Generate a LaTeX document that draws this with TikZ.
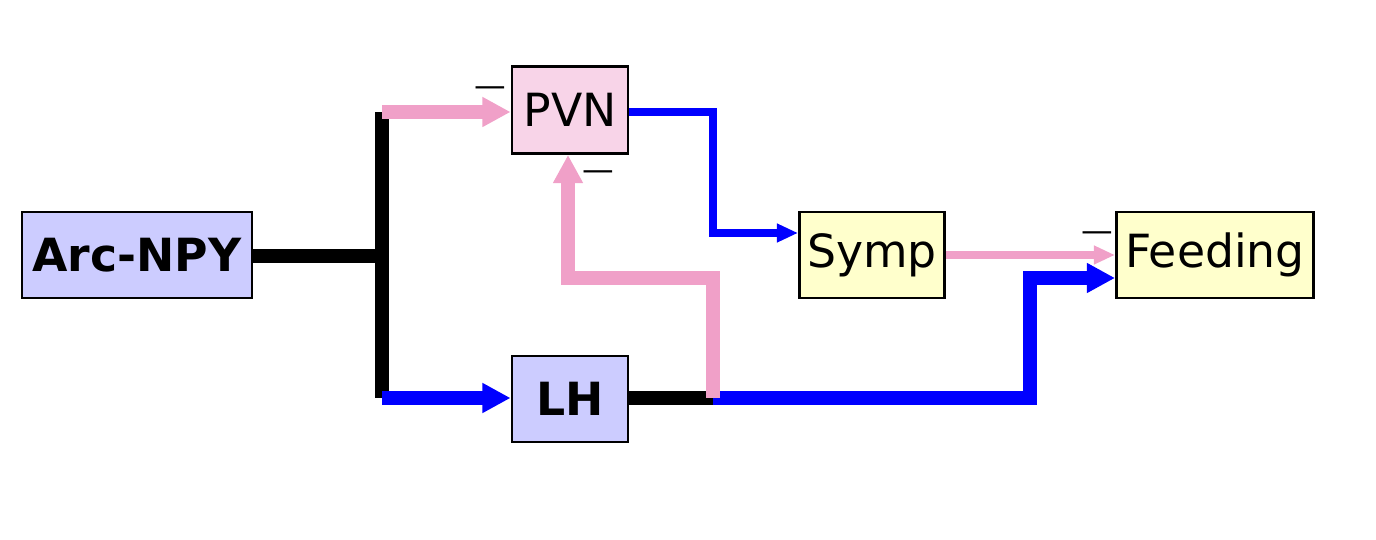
\documentclass[tikz,border=0pt]{standalone}
\usepackage{fontspec}
\setmainfont{DejaVu Sans}
\usetikzlibrary{arrows.meta}
\definecolor{lav}{RGB}{204,204,255}
\definecolor{pinkbox}{RGB}{248,212,232}
\definecolor{yel}{RGB}{255,255,204}
\definecolor{pinkline}{RGB}{240,160,200}
\tikzset{
    box/.style={draw, black, line width=0.8pt, inner sep=0pt, font=\fontsize{13}{15}\selectfont},
    minus/.style={font=\fontsize{9}{10}\selectfont, inner sep=0pt},
    tip/.style={-{Triangle[length=8pt, width=8pt]}}
}
\begin{document}
\begin{tikzpicture}[x=0.01cm, y=-0.01cm]
        \useasboundingbox (0,0) rectangle (1376,540);

        \node[box, fill=lav, minimum width=2.3cm, minimum height=0.86cm, font=\fontsize{13}{15}\selectfont\bfseries] (arc) at (137,255) {Arc-NPY};
        \node[box, fill=pinkbox, minimum width=1.16cm, minimum height=0.87cm] (pvn) at (570,110) {PVN};
        \node[box, fill=lav, minimum width=1.16cm, minimum height=0.86cm, font=\fontsize{13}{15}\selectfont\bfseries] (lh) at (570,399) {LH};
        \node[box, fill=yel, minimum width=1.45cm, minimum height=0.86cm] (symp) at (872,255) {Symp};
        \node[box, fill=yel, minimum width=1.97cm, minimum height=0.86cm] (feed) at (1215,255) {Feeding};

        \coordinate (split) at (382,256);
        \coordinate (top) at (382,112);
        \coordinate (bot) at (382,398);
        \coordinate (lhout) at (713,398);

        % Arc-NPY branches
        \draw[line width=4pt] (arc.east |- split) -- (split);
        \draw[line width=4pt] (top) -- (bot);
        \draw[pinkline, line width=4pt, tip] (top) -- (pvn.west |- top);
        \draw[blue, line width=4pt, tip] (bot) -- (lh.west |- bot);

        % LH outputs
        \draw[line width=4pt] (lh.east |- lhout) -- (lhout);
        \draw[blue, line width=4pt, tip] (lhout) -- (1030,398) -- (1030,278) -- (feed.west |- 0,278);
        \draw[pinkline, line width=4pt, tip] (lhout) -- (713,278) -- (568,278) -- (pvn.south -| 568,0);

        % PVN and Symp
        \draw[blue, line width=2pt, -{Triangle[length=6pt, width=5pt]}] (pvn.east |- 0,112) -- (713,112) -- (713,233) -- (symp.west |- 0,233);
        \draw[pinkline, line width=2pt, -{Triangle[length=6pt, width=5pt]}] (symp.east) -- (feed.west);

        \node[minus] (m1) at (490,92) {—};
        \node[minus] (m2) at (598,176) {—};
        \node[minus] (m3) at (1097,237) {—};
    \end{tikzpicture}
\end{document}
